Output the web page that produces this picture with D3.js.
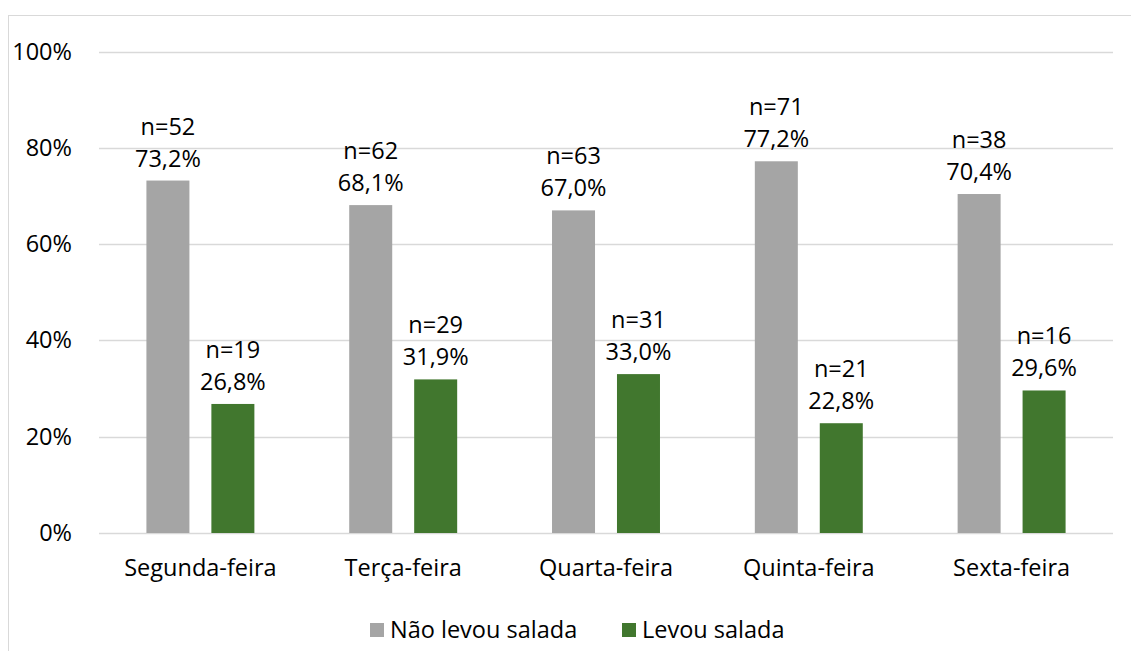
<!DOCTYPE html>
<html>
<head>
<meta charset="utf-8">
<script src="https://cdn.jsdelivr.net/npm/d3@7"></script>
<style>
  body { margin: 0; background: #fff; }
  text { font-family: "Open Sans", "Noto Sans", sans-serif; fill: #000; }
</style>
</head>
<body>
<div id="chart"></div>
<script>
var days = ["Segunda-feira", "Terça-feira", "Quarta-feira", "Quinta-feira", "Sexta-feira"];
var seriesNames = ["Não levou salada", "Levou salada"];
var seriesColors = ["#a5a5a5", "#41772e"];
var naoPct = [73.2, 68.1, 67.0, 77.2, 70.4];
var naoN = [52, 62, 63, 71, 38];
var levouPct = [26.8, 31.9, 33.0, 22.8, 29.6];
var levouN = [19, 29, 31, 21, 16];
var yTicks = [0, 20, 40, 60, 80, 100];

var width = 1131, height = 651;
var margin = {left: 99, right: 18, top: 51.5, bottom: 118};
var fontSize = '23.5px';

var svg = d3.select('#chart')
  .append('svg')
  .attr('width', width)
  .attr('height', height);

// outer chart border (only top and left show in frame)
svg.append('rect')
  .attr('x', 8.5).attr('y', 15.5)
  .attr('width', 1140).attr('height', 700)
  .attr('fill', 'none')
  .attr('stroke', '#d9d9d9');

var x = d3.scaleBand()
  .domain(days)
  .range([margin.left, width - margin.right]);

var x1 = d3.scaleBand()
  .domain([0, 1])
  .range([0, x.bandwidth()])
  .paddingInner(0.338)
  .paddingOuter(0.73);

var y = d3.scaleLinear()
  .domain([0, 100])
  .range([height - margin.bottom, margin.top]);

// gridlines
svg.append('g')
  .selectAll('line')
  .data(yTicks)
  .enter()
  .append('line')
  .attr('x1', margin.left)
  .attr('x2', width - margin.right)
  .attr('y1', function (d) { return Math.round(y(d)) + 0.5; })
  .attr('y2', function (d) { return Math.round(y(d)) + 0.5; })
  .attr('stroke', '#d9d9d9')
  .attr('stroke-width', 1.5);

var yAxis = svg.append('g')
  .attr('transform', 'translate(' + (margin.left - 27) + ',0)')
  .call(d3.axisLeft(y).tickValues(yTicks).tickSize(0).tickFormat(function (d) { return d + '%'; }));
yAxis.select('.domain').remove();
yAxis.selectAll('text')
  .attr('x', 0)
  .style('font-size', fontSize)
  .style('font-family', '"Open Sans", sans-serif');

var xAxis = svg.append('g')
  .attr('transform', 'translate(0,' + (height - margin.bottom) + ')')
  .call(d3.axisBottom(x).tickSize(0));
xAxis.select('.domain').remove();
xAxis.selectAll('text')
  .attr('y', 26)
  .style('font-size', fontSize)
  .style('font-family', '"Open Sans", sans-serif');

var rows = days.map(function (d, i) {
  return [
    {day: d, s: 0, pct: naoPct[i], n: naoN[i]},
    {day: d, s: 1, pct: levouPct[i], n: levouN[i]}
  ];
});

var group = svg.selectAll('.day')
  .data(rows)
  .enter()
  .append('g')
  .attr('class', 'day')
  .attr('transform', function (d) { return 'translate(' + x(d[0].day) + ',0)'; });

var bar = group.selectAll('.bar')
  .data(function (d) { return d; })
  .enter()
  .append('g')
  .attr('class', 'bar');

bar.append('rect')
  .attr('x', function (d) { return x1(d.s); })
  .attr('width', x1.bandwidth())
  .attr('y', function (d) { return y(d.pct); })
  .attr('height', function (d) { return y(0) - y(d.pct); })
  .attr('fill', function (d) { return seriesColors[d.s]; });

bar.append('text')
  .attr('x', function (d) { return x1(d.s) + x1.bandwidth() / 2; })
  .attr('y', function (d) { return y(d.pct) - 14; })
  .attr('text-anchor', 'middle')
  .style('font-size', fontSize)
  .text(function (d) { return d.pct.toFixed(1).replace('.', ',') + '%'; });

bar.append('text')
  .attr('x', function (d) { return x1(d.s) + x1.bandwidth() / 2; })
  .attr('y', function (d) { return y(d.pct) - 46; })
  .attr('text-anchor', 'middle')
  .style('font-size', fontSize)
  .text(function (d) { return 'n=' + d.n; });

// legend
var legend = svg.append('g')
  .attr('transform', 'translate(0,630)');

var legendX = [370, 622];
seriesNames.forEach(function (name, i) {
  legend.append('rect')
    .attr('x', legendX[i])
    .attr('y', -7)
    .attr('width', 14)
    .attr('height', 14)
    .attr('fill', seriesColors[i]);
  legend.append('text')
    .attr('x', legendX[i] + 20)
    .attr('y', 8)
    .style('font-size', fontSize)
    .text(name);
});
</script>
</body>
</html>
